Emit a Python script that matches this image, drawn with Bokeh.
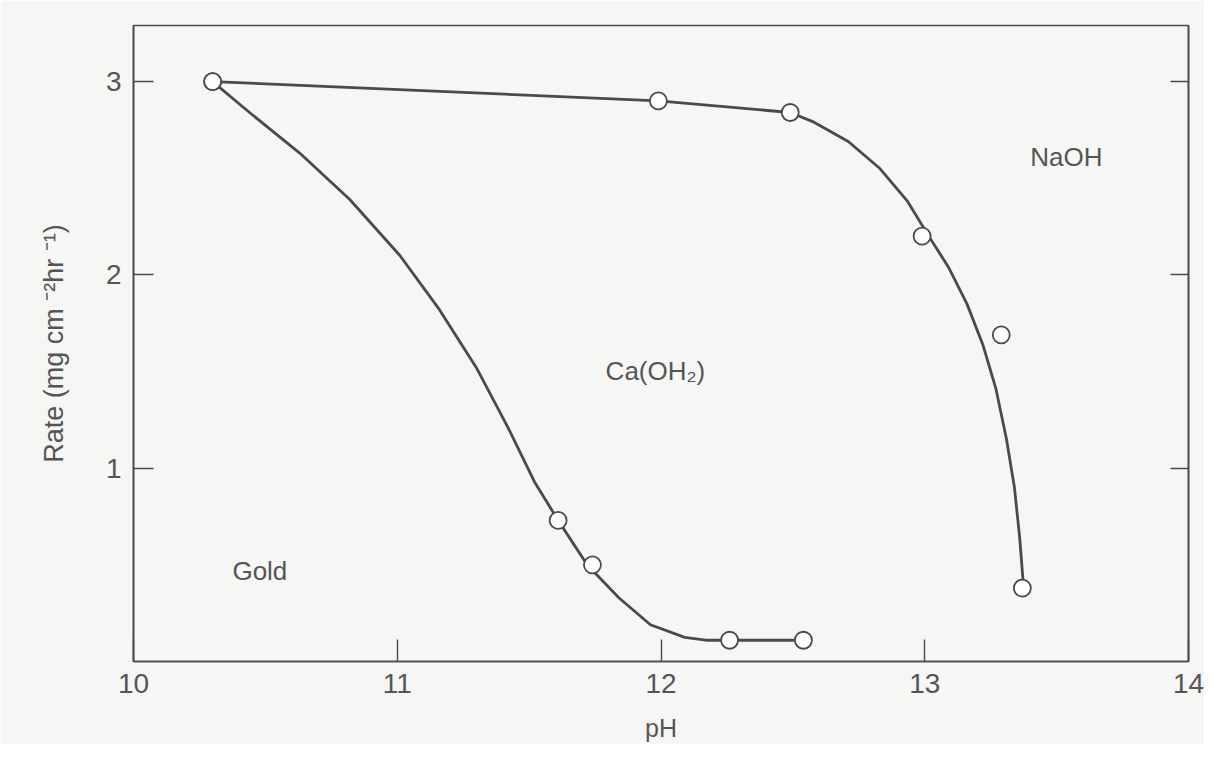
from bokeh.plotting import figure
from bokeh.models import Range1d, LinearAxis, FixedTicker, Label
from bokeh.embed import file_html
from bokeh.resources import INLINE

# ---- data ----
naoh_ph = [10.30, 11.99, 12.49, 12.99, 13.29, 13.37]
naoh_rate = [3.00, 2.90, 2.84, 2.20, 1.69, 0.38]

ca_ph = [10.30, 11.61, 11.74, 12.26, 12.54]
ca_rate = [3.00, 0.73, 0.50, 0.11, 0.11]

# traced drawn curves
naoh_curve_ph = [10.30, 11.99, 12.49, 12.58, 12.71, 12.83, 12.935, 13.02, 13.09,
                 13.16, 13.22, 13.27, 13.31, 13.34, 13.36, 13.375]
naoh_curve_rate = [3.00, 2.90, 2.84, 2.79, 2.69, 2.55, 2.38, 2.19, 2.04,
                   1.85, 1.64, 1.41, 1.15, 0.90, 0.64, 0.38]

ca_curve_ph = [10.30, 10.44, 10.63, 10.82, 11.01, 11.16, 11.30, 11.42, 11.52,
               11.61, 11.72, 11.84, 11.96, 12.09, 12.17, 12.26, 12.54]
ca_curve_rate = [3.00, 2.84, 2.63, 2.39, 2.10, 1.82, 1.52, 1.21, 0.93,
                 0.73, 0.50, 0.33, 0.19, 0.125, 0.11, 0.11, 0.11]

x_ticks = [10, 11, 12, 13, 14]
y_ticks = [1, 2, 3]

INK = "#4a4a4a"
TXT = "#555555"
BG = "#f6f6f4"
FONT = "Liberation Sans"

p = figure(width=1204, height=744, output_backend="svg", toolbar_location=None,
           x_range=Range1d(10, 14), y_range=Range1d(0, 3.29),
           min_border_left=133, min_border_right=16, min_border_top=25,
           min_border_bottom=80)
p.background_fill_color = BG
p.border_fill_color = BG
p.outline_line_color = INK
p.outline_line_width = 1.6
p.grid.visible = False

# bottom axis
xa = p.xaxis[0]
xa.ticker = FixedTicker(ticks=x_ticks)
xa.axis_label = "pH"
xa.axis_label_text_font = FONT
xa.axis_label_text_font_style = "normal"
xa.axis_label_text_font_size = "25px"
xa.axis_label_text_color = TXT
xa.axis_label_standoff = 18
xa.major_label_text_font = FONT
xa.major_label_text_font_size = "28px"
xa.major_label_text_color = TXT
xa.major_label_standoff = 12
xa.major_tick_in = 22
xa.major_tick_out = 0
xa.minor_tick_in = 0
xa.minor_tick_out = 0
xa.axis_line_color = INK
xa.axis_line_width = 1.6
xa.major_tick_line_color = INK
xa.major_tick_line_width = 1.4

# left axis
ya = p.yaxis[0]
ya.ticker = FixedTicker(ticks=y_ticks)
ya.axis_label = "Rate (mg cm \u207b\u00b2hr \u207b\u00b9)"
ya.axis_label_text_font = FONT
ya.axis_label_text_font_style = "normal"
ya.axis_label_text_font_size = "27px"
ya.axis_label_text_color = TXT
ya.axis_label_standoff = 34
ya.major_label_text_font = FONT
ya.major_label_text_font_size = "28px"
ya.major_label_text_color = TXT
ya.major_label_standoff = 12
ya.major_label_orientation = "horizontal"
ya.major_tick_in = 20
ya.major_tick_out = 0
ya.minor_tick_in = 0
ya.minor_tick_out = 0
ya.axis_line_color = INK
ya.axis_line_width = 1.6
ya.major_tick_line_color = INK
ya.major_tick_line_width = 1.4

# right axis: inward ticks, no labels
ra = LinearAxis(ticker=FixedTicker(ticks=y_ticks))
ra.major_label_overrides = {t: "" for t in y_ticks}
ra.major_label_standoff = 0
ra.major_tick_in = 18
ra.major_tick_out = 0
ra.minor_tick_in = 0
ra.minor_tick_out = 0
ra.axis_line_color = INK
ra.axis_line_width = 1.6
ra.major_tick_line_color = INK
ra.major_tick_line_width = 1.4
p.add_layout(ra, "right")

# curves
p.line(naoh_curve_ph, naoh_curve_rate, line_color=INK, line_width=2.8,
       line_join="round", line_cap="round")
p.line(ca_curve_ph, ca_curve_rate, line_color=INK, line_width=2.8,
       line_join="round", line_cap="round")

# markers
p.scatter(naoh_ph, naoh_rate, marker="circle", size=17, fill_color="white",
          line_color=INK, line_width=1.8)
p.scatter(ca_ph, ca_rate, marker="circle", size=17, fill_color="white",
          line_color=INK, line_width=1.8)

# text labels
for txt, xx, yy in [("NaOH", 13.40, 2.61), ("Ca(OH\u2082)", 11.79, 1.505),
                    ("Gold", 10.375, 0.47)]:
    p.add_layout(Label(x=xx, y=yy, text=txt, text_font=FONT,
                       text_font_size="26px", text_color=TXT,
                       text_baseline="middle", text_align="left"))

open("out.html", "w").write(file_html(p, INLINE))
